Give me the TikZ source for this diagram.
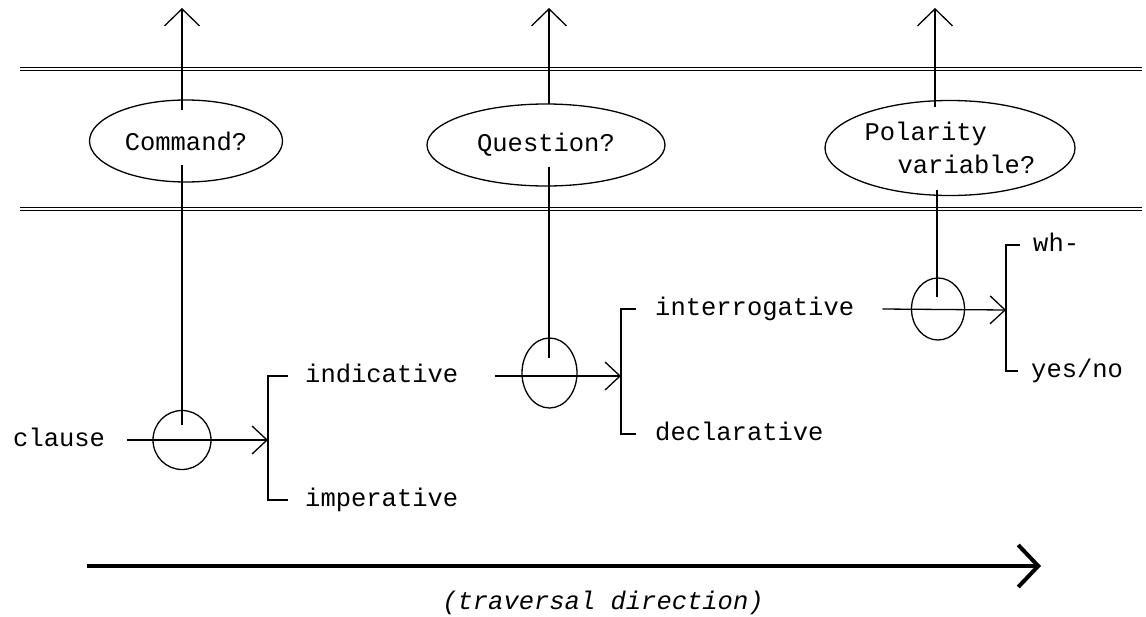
\documentclass[tikz,border=0pt]{standalone}
\usepackage{fontspec}
\setmonofont{Liberation Mono}
\usetikzlibrary{shapes.geometric,arrows.meta}
\begin{document}
\begin{tikzpicture}[x=1pt,y=-1pt,
  every node/.style={font=\ttfamily\fontsize{25.5}{33}\selectfont, inner sep=0pt},
  lbl/.style={anchor=west, text height=13pt, text depth=0pt},
  oval/.style={draw, ellipse, line width=1.3pt},
  gate/.style={draw, ellipse, line width=1.3pt},
  wire/.style={line width=1.3pt},
  up/.style={wire, -{Straight Barb[length=17pt,width=35pt]}},
  into/.style={wire, -{Straight Barb[length=15pt,width=28pt]}},
  rail/.style={double, double distance=2.5pt, line width=1pt},
  travtext/.style={font=\ttfamily\itshape\fontsize{25.5}{33}\selectfont},
]
\useasboundingbox (0,0) rectangle (1146,616);
\fill[white] (0,0) rectangle (1146,616);

% rails
\coordinate (r1a) at (20,69);  \coordinate (r1b) at (1142,69);
\coordinate (r2a) at (20,209); \coordinate (r2b) at (1142,209);
\draw[rail] (r1a) -- (r1b);
\draw[rail] (r2a) -- (r2b);

% ellipses
\node[oval, minimum width=193pt, minimum height=82pt] (e1) at (186,141) {Command?};
\node[oval, minimum width=238pt, minimum height=82pt] (e2) at (546,145) {Question?};
\node[oval, minimum width=250pt, minimum height=95pt, align=left] (e3) at (950,148) {Polarity\\\hspace*{33pt}variable?};

% gates
\node[gate, minimum width=58pt, minimum height=59pt] (g1) at (182,440) {};
\node[gate, minimum width=55pt, minimum height=70pt] (g2) at (549.5,373) {};
\node[gate, minimum width=53pt, minimum height=62pt] (g3) at (938,309) {};

% labels
\node[lbl] (clause) at (13,440) {clause};
\node[lbl] (ind) at (305,376) {indicative};
\node[lbl] (imp) at (305,500) {imperative};
\node[lbl] (int) at (655,309) {interrogative};
\node[lbl] (dec) at (655,434) {declarative};
\node[lbl] (wh) at (1033,245) {wh-};
\node[lbl] (yn) at (1031,371) {yes/no};

% system 1
\coordinate (b1) at (268,440);
\draw[into] ([xshift=22pt]clause.east) -- (b1);
\draw[wire] ([xshift=-17pt]ind.west) -| (b1) |- ([xshift=-17pt]imp.west);
\coordinate (e1lo) at (182,165); \coordinate (e1hi) at (182,110); \coordinate (t1) at (182,8);
\draw[wire] ([yshift=15pt]g1.center) -- (e1lo);
\draw[up] (e1hi) -- (t1);

% system 2
\coordinate (b2) at (621,376);
\draw[into] ([xshift=37pt]ind.east) -- (b2);
\draw[wire] ([xshift=-19pt]int.west) -| (b2) |- ([xshift=-19pt]dec.west);
\coordinate (g2lo) at (549,358);
\coordinate (e2lo) at (549,167); \coordinate (e2hi) at (549,104); \coordinate (t2) at (549,8);
\draw[wire] (g2lo) -- (e2lo);
\draw[up] (e2hi) -- (t2);

% system 3
\coordinate (b3) at (1006,310);
\draw[into] ([xshift=28pt]int.east) -- (b3);
\draw[wire] ([xshift=-13pt]wh.west) -| (b3) |- ([xshift=-13pt]yn.west);
\coordinate (g3lo) at (937,297);
\coordinate (e3lo) at (937,190); \coordinate (e3hi) at (935,107); \coordinate (t3) at (935,8);
\draw[wire] (g3lo) -- (e3lo);
\draw[up] (e3hi) -- (t3);

% traversal
\coordinate (ts) at (87,566); \coordinate (te) at (1041,566);
\draw[line width=4pt, -{Straight Barb[length=20pt,width=42pt]}] (ts) -- (te);
\node[travtext] (trav) at (603,603) {(traversal direction)};
\end{tikzpicture}
\end{document}
